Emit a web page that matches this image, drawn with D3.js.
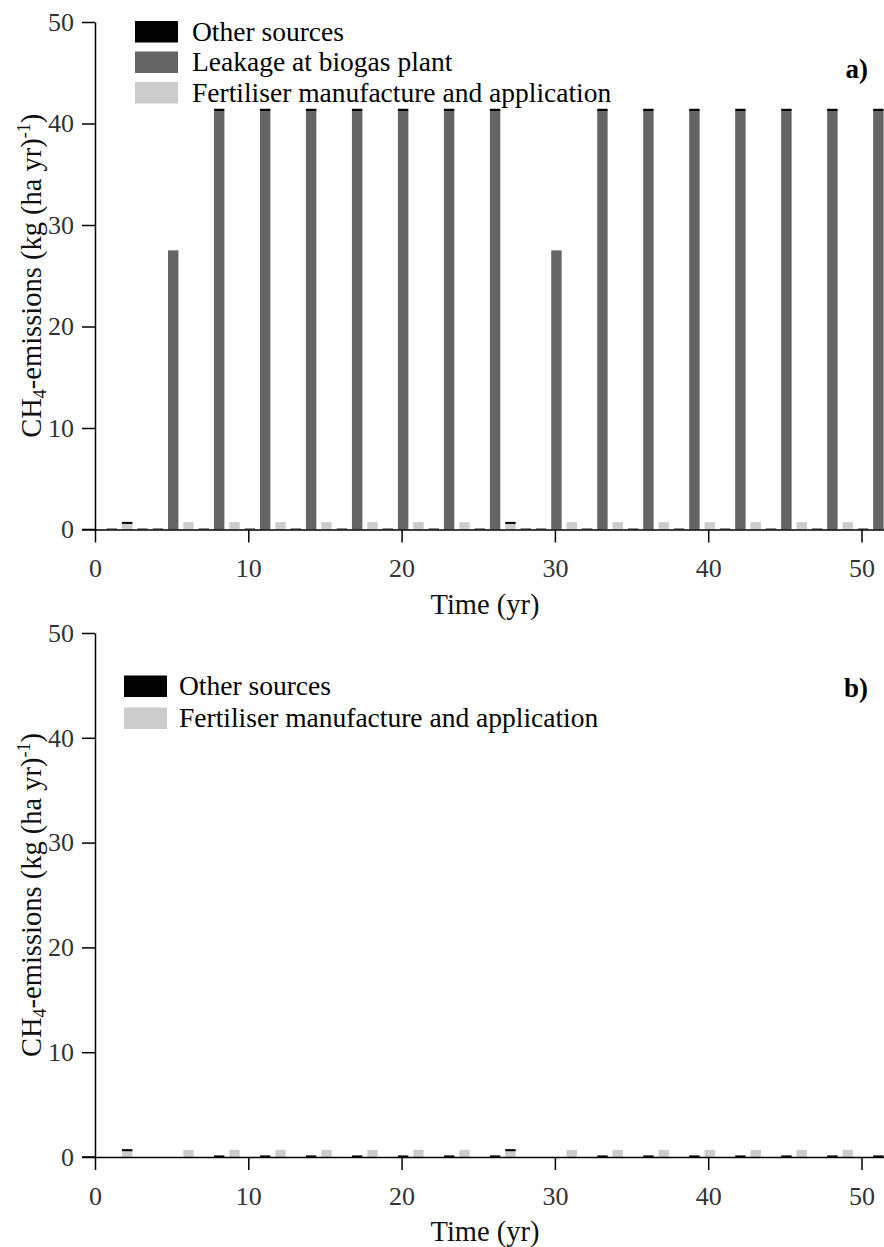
<!DOCTYPE html>
<html><head><meta charset="utf-8">
<script src="https://cdn.jsdelivr.net/npm/d3@7"></script>
<style>
body{margin:0;background:#fff;}
</style></head>
<body><svg id="c" width="884" height="1247"></svg>
<script>
const years = [1,2,3,4,5,6,7,8,9,10,11,12,13,14,15,16,17,18,19,20,21,22,23,24,25,26,27,28,29,30,31,32,33,34,35,36,37,38,39,40,41,42,43,44,45,46,47,48,49,50,51];
// Panel a
const fertA  = [0,0.55,0,0,0,0.72,0,0,0.72,0,0,0.72,0,0,0.72,0,0,0.72,0,0,0.72,0,0,0.72,0,0,0.55,0,0,0,0.72,0,0,0.72,0,0,0.72,0,0,0.72,0,0,0.72,0,0,0.72,0,0,0.72,0,0];
const leakA  = [0.12,0,0.12,0.12,27.5,0,0.12,41.2,0,0.12,41.2,0,0.12,41.2,0,0.12,41.2,0,0.12,41.2,0,0.12,41.2,0,0.12,41.2,0,0.12,0.12,27.5,0,0.12,41.2,0,0.12,41.2,0,0.12,41.2,0,0.12,41.2,0,0.12,41.2,0,0.12,41.2,0,0.12,41.2];
const otherA = [0,0.2,0,0,0,0,0,0.25,0,0,0.25,0,0,0.25,0,0,0.25,0,0,0.25,0,0,0.25,0,0,0.25,0.2,0,0,0,0,0,0.25,0,0,0.25,0,0,0.25,0,0,0.25,0,0,0.25,0,0,0.25,0,0,0.25];
// Panel b
const fertB  = [0,0.55,0,0,0,0.68,0,0,0.68,0,0,0.68,0,0,0.68,0,0,0.68,0,0,0.68,0,0,0.68,0,0,0.55,0,0,0,0.68,0,0,0.68,0,0,0.68,0,0,0.68,0,0,0.68,0,0,0.68,0,0,0.68,0,0];
const otherB = [0,0.2,0,0,0,0,0,0.15,0,0,0.15,0,0,0.15,0,0,0.15,0,0,0.15,0,0,0.15,0,0,0.15,0.2,0,0,0,0,0,0.15,0,0,0.15,0,0,0.15,0,0,0.15,0,0,0.15,0,0,0.15,0,0,0.15];

const xTicks = [0,10,20,30,40,50];
const yTicks = [0,10,20,30,40,50];
const seriesNames = {other:"Other sources", leak:"Leakage at biogas plant", fert:"Fertiliser manufacture and application"};
const colors = {other:"#000000", leak:"#646464", fert:"#cccccc"};
const FONT = "'Liberation Serif', 'Times New Roman', Tinos, Times, 'DejaVu Serif', serif";

const svg = d3.select("#c");
const x = d3.scaleLinear().domain([0,51.5]).range([95,884.5]);

function panel(opts){
  const y = d3.scaleLinear().domain([0,50]).range([opts.y0, opts.y50]);
  const g = svg.append("g");
  const rows = years.map((yr,i)=>{const r={year:yr}; opts.keys.forEach(k=>r[k]=opts.data[k][i]); return r;});
  const stack = d3.stack().keys(opts.keys)(rows);
  const bw = x(0.68)-x(0);
  stack.forEach(layer=>{
    g.append("g").attr("fill",colors[layer.key]).selectAll("rect")
      .data(layer.filter(d=>d[1]-d[0]>0)).join("rect")
      .attr("x",d=>x(d.data.year+0.1)-bw/2)
      .attr("width",bw)
      .attr("y",d=>y(d[1]))
      .attr("height",d=>y(d[0])-y(d[1]));
  });
  const xa = g.append("g").attr("transform",`translate(0,${opts.y0})`)
    .call(d3.axisBottom(x).tickValues(xTicks).tickSize(13).tickSizeOuter(0).tickPadding(6));
  const ya = g.append("g").attr("transform",`translate(95,0)`)
    .call(d3.axisLeft(y).tickValues(yTicks).tickSize(13).tickSizeOuter(0).tickPadding(8));
  [xa,ya].forEach(a=>{
    a.attr("font-family",null).style("font-family",FONT);
    a.select(".domain").attr("stroke","#000").attr("stroke-width",1.5);
    a.selectAll(".tick line").attr("stroke","#000").attr("stroke-width",1.5);
    a.selectAll(".tick text").style("font-family",FONT).attr("font-size",26).attr("fill","#333");
  });
  g.append("line").attr("x1",82).attr("x2",95).attr("y1",opts.y0).attr("y2",opts.y0).attr("stroke","#000").attr("stroke-width",1.5);
  xa.selectAll(".tick text").attr("y",47.5).attr("dy",0);
  g.append("text").attr("x",485).attr("y",opts.y0+84).attr("text-anchor","middle").style("font-family",FONT)
    .attr("font-size",28.5).attr("fill","#111").text("Time (yr)");
  const cy = y(25);
  const t = g.append("text").attr("transform",`translate(41,${cy}) rotate(-90)`).style("font-family",FONT)
    .attr("text-anchor","middle").attr("font-size",28.5).attr("fill","#111");
  t.append("tspan").text("CH");
  t.append("tspan").attr("font-size",18).attr("dy",5).text("4");
  t.append("tspan").attr("dy",-5).text("-emissions (kg (ha yr)");
  t.append("tspan").attr("font-size",18).attr("dy",-11).text("-1");
  t.append("tspan").attr("dy",11).text(")");
  opts.legend.forEach((k,i)=>{
    g.append("rect").attr("x",opts.lx).attr("y",opts.ly+i*opts.ls).attr("width",43).attr("height",21.5).attr("fill",colors[k]);
    g.append("text").attr("x",opts.lx+opts.tx).attr("y",opts.ly+i*opts.ls+19.5).style("font-family",FONT)
      .attr("font-size",27.5).attr("fill","#000").text(seriesNames[k]);
  });
  g.append("text").attr("x",868).attr("y",opts.labY).attr("text-anchor","end").style("font-family",FONT)
    .attr("font-size",27).attr("font-weight","bold").attr("fill","#000").text(opts.label);
}

panel({y0:529.5, y50:22, keys:["fert","leak","other"], data:{fert:fertA, leak:leakA, other:otherA},
  legend:["other","leak","fert"], lx:135, ly:21, ls:30.5, tx:57, label:"a)", labY:78});
panel({y0:1157, y50:633, keys:["fert","other"], data:{fert:fertB, other:otherB},
  legend:["other","fert"], lx:124, ly:675.5, ls:32, tx:55, label:"b)", labY:697});
</script></body></html>
